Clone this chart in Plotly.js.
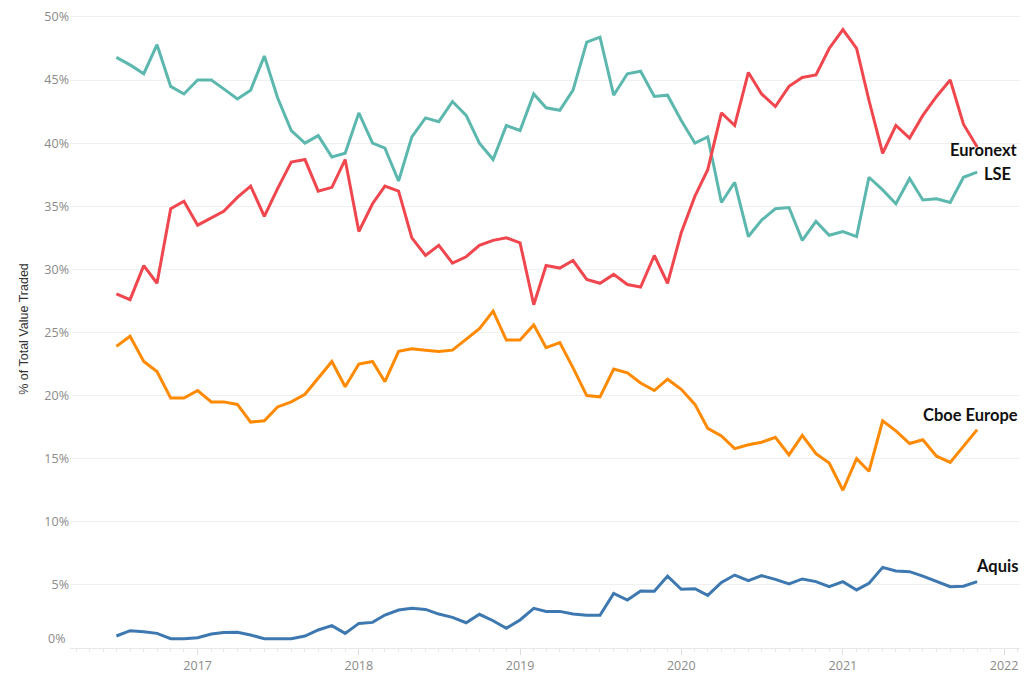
<!DOCTYPE html>
<html>
<head>
<meta charset="utf-8">
<script src="https://cdn.plot.ly/plotly-3.0.1.min.js"></script>
<style>
html,body{margin:0;padding:0;background:#fff;}
#chart{width:1024px;height:682px;}
</style>
</head>
<body>
<div id="chart"></div>
<script>
const months = [
"2016-07-01","2016-08-01","2016-09-01","2016-10-01","2016-11-01","2016-12-01",
"2017-01-01","2017-02-01","2017-03-01","2017-04-01","2017-05-01","2017-06-01",
"2017-07-01","2017-08-01","2017-09-01","2017-10-01","2017-11-01","2017-12-01",
"2018-01-01","2018-02-01","2018-03-01","2018-04-01","2018-05-01","2018-06-01",
"2018-07-01","2018-08-01","2018-09-01","2018-10-01","2018-11-01","2018-12-01",
"2019-01-01","2019-02-01","2019-03-01","2019-04-01","2019-05-01","2019-06-01",
"2019-07-01","2019-08-01","2019-09-01","2019-10-01","2019-11-01","2019-12-01",
"2020-01-01","2020-02-01","2020-03-01","2020-04-01","2020-05-01","2020-06-01",
"2020-07-01","2020-08-01","2020-09-01","2020-10-01","2020-11-01","2020-12-01",
"2021-01-01","2021-02-01","2021-03-01","2021-04-01","2021-05-01","2021-06-01",
"2021-07-01","2021-08-01","2021-09-01","2021-10-01","2021-11-01"
];

const lse = [
46.8,46.2,45.5,47.8,44.5,43.9,45.0,45.0,44.3,43.5,44.2,46.9,
43.6,41.0,40.0,40.6,38.9,39.2,42.4,40.0,39.6,37.0,40.5,42.0,
41.7,43.3,42.2,40.0,38.7,41.4,41.0,43.9,42.8,42.6,44.2,48.0,
48.4,43.8,45.5,45.7,43.7,43.8,41.8,40.0,40.5,35.3,36.9,32.6,
33.9,34.8,34.9,32.3,33.8,32.7,33.0,32.6,37.3,36.3,35.2,37.2,
35.5,35.6,35.3,37.3,37.7
];

const euronext = [
28.05,27.6,30.3,28.9,34.8,35.4,33.5,34.1,34.6,35.7,36.6,34.2,
36.4,38.5,38.7,36.2,36.5,38.7,33.0,35.2,36.6,36.2,32.5,31.1,
31.9,30.5,31.0,31.9,32.3,32.5,32.1,27.2,30.3,30.1,30.7,29.2,
28.9,29.6,28.8,28.6,31.1,28.9,32.9,35.8,37.9,42.4,41.4,45.6,
43.9,42.9,44.5,45.2,45.4,47.5,49.0,47.5,43.4,39.2,41.4,40.4,
42.2,43.7,45.0,41.5,39.7
];

const cboe = [
23.9,24.7,22.7,21.9,19.8,19.8,20.4,19.5,19.5,19.3,17.9,18.0,
19.1,19.5,20.1,21.4,22.7,20.7,22.5,22.7,21.1,23.5,23.7,23.6,
23.5,23.6,24.5,25.3,26.7,24.4,24.4,25.6,23.8,24.2,22.2,20.0,
19.9,22.1,21.8,21.0,20.4,21.3,20.5,19.3,17.4,16.8,15.8,16.1,
16.3,16.7,15.3,16.85,15.4,14.65,12.5,15.0,14.0,18.0,17.2,16.2,
16.5,15.2,14.7,16.0,17.3
];

const aquis = [
0.95,1.37,1.29,1.16,0.74,0.74,0.82,1.11,1.22,1.24,1.03,0.74,
0.74,0.74,0.95,1.43,1.77,1.16,1.95,2.03,2.61,3.01,3.14,3.06,
2.69,2.43,2.0,2.67,2.16,1.56,2.22,3.14,2.9,2.9,2.69,2.59,
2.59,4.33,3.8,4.52,4.49,5.7,4.65,4.7,4.17,5.2,5.78,5.34,
5.73,5.44,5.07,5.47,5.26,4.86,5.26,4.6,5.12,6.39,6.1,6.05,
5.7,5.31,4.86,4.9,5.26
];

// 0% label is drawn separately (shifted up inside the pane, as in the original)
const yTicks = [0,5,10,15,20,25,30,35,40,45,50];
const yTickText = ["","5%","10%","15%","20%","25%","30%","35%","40%","45%","50%"];

const series = [
  {name:"LSE", y:lse, color:"#5cb8ae"},
  {name:"Euronext", y:euronext, color:"#f0474f"},
  {name:"Cboe Europe", y:cboe, color:"#ff8a00"},
  {name:"Aquis", y:aquis, color:"#3d78b0"}
];

const traces = series.map(s => ({
  type:"scatter", mode:"lines", x:months, y:s.y, name:s.name,
  line:{color:s.color, width:3}, hoverinfo:"skip"
}));

const tickFont = {family:"'Open Sans', sans-serif", size:12.5, color:"#8a8a8a"};
const labelFont = {family:"Lato, 'Open Sans', sans-serif", size:16.5, color:"#111", weight:"bold"};

const layout = {
  width:1024, height:682,
  margin:{l:70, r:4, t:10, b:34},
  paper_bgcolor:"#fff", plot_bgcolor:"#fff",
  showlegend:false,
  font:{family:"'Open Sans', sans-serif", color:"#888"},
  xaxis:{
    type:"date",
    range:["2016-03-18","2022-02-06"],
    dtick:"M12", tick0:"2017-01-01",
    tickformat:"%Y",
    ticks:"outside", ticklen:6, tickcolor:"#dddddd", tickwidth:1,
    minor:{dtick:"M1", ticks:"outside", ticklen:3, tickcolor:"#e6e6e6", showgrid:false},
    showgrid:false, zeroline:false,
    showline:true, linecolor:"#e8e8e8", linewidth:1,
    tickfont:tickFont
  },
  yaxis:{
    range:[0,50.55],
    tickvals:yTicks, ticktext:yTickText,
    showgrid:true, gridcolor:"#f0f0f0", gridwidth:1,
    zeroline:false, showline:false, ticks:"",
    tickfont:tickFont,
    title:{text:"% of Total Value Traded", standoff:12,
      font:{family:"'Liberation Sans', Arial, sans-serif", size:12.5, color:"#333"}}
  },
  annotations:[
    {text:"0%", xref:"paper", x:0, xanchor:"right", xshift:-3, yref:"y", y:0, yanchor:"bottom", yshift:-1, showarrow:false, font:tickFont},
    {text:"Euronext", xref:"paper", x:1, xanchor:"right", yref:"y", y:39.46, yanchor:"middle", showarrow:false, font:labelFont},
    {text:"LSE", xref:"x", x:months[months.length-1], xanchor:"left", xshift:5, yref:"y", y:37.56, yanchor:"middle", showarrow:false, font:labelFont},
    {text:"Cboe Europe", xref:"paper", x:1, xanchor:"right", yref:"y", y:18.46, yanchor:"middle", showarrow:false, font:labelFont},
    {text:"Aquis", xref:"paper", x:1, xanchor:"right", yref:"y", y:6.5, yanchor:"middle", showarrow:false, font:labelFont}
  ]
};

Plotly.newPlot("chart", traces, layout, {displayModeBar:false, staticPlot:true});
</script>
</body>
</html>
